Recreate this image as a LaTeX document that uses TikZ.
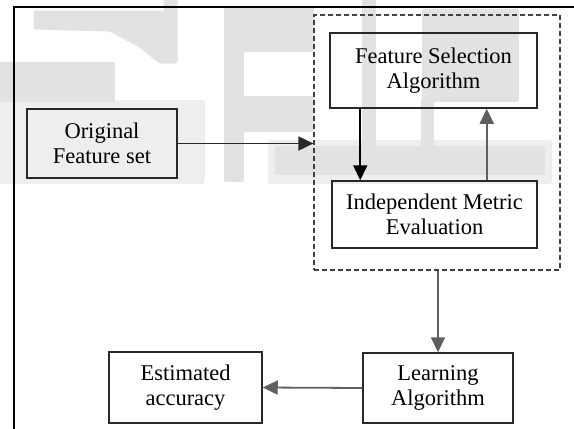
\documentclass[tikz,border=0pt]{standalone}
\usepackage{fontspec}
\setmainfont{Liberation Serif}
\usetikzlibrary{arrows.meta}

\definecolor{markgray}{RGB}{226,226,226}
\definecolor{hazegray}{RGB}{238,238,238}
\definecolor{inkgray}{RGB}{40,40,40}
\definecolor{linegray}{RGB}{95,95,95}

\tikzset{
  box/.style={draw=inkgray, line width=1.5pt, inner sep=0pt, align=center,
              text=black, font=\fontsize{22.5}{25.5}\selectfont},
  fence/.style={draw=black!75, line width=1.2pt, dash pattern=on 5pt off 3pt,
                inner sep=0pt},
  arr/.style={line width=1.8pt, -{Triangle[length=15pt,width=14pt]}},
  logopart/.style={fill=markgray, draw=markgray, line width=3pt, line join=round},
  logohaze/.style={fill=hazegray, draw=hazegray, line width=6pt, line join=round}
}

\begin{document}
\begin{tikzpicture}[x=1pt, y=-1pt]
  \useasboundingbox (0,0) rectangle (574,429);
  \fill[white] (0,0) rectangle (574,429);

  % faint background logo
  \path[logohaze] (0,103) rectangle (202,181);
  \path[logohaze] (271,143) rectangle (549,181);
  \path[logopart] (35,12) -- (165,12) -- (165,0) -- (176,0) -- (176,62) -- (160,62)
              -- (140,46) -- (110,30) -- (35,28) -- cycle;
  \path[logopart] (0,63) rectangle (113,100);
  \path[logopart] (225,8) rectangle (312,50);
  \path[logopart] (225,50) rectangle (242,180);
  \path[logopart] (242,97) rectangle (312,130);
  \path[logopart] (363,0) rectangle (374,145);
  \path[logopart] (423,10) rectangle (517,100);
  \path[logopart] (422,100) rectangle (432,145);
  \path[logopart] (276,147) rectangle (543,173);

  % outer frame
  \draw[line width=2pt, black] (14,440) -- (14,7) -- (590,7);

  % blocks
  \node[box, minimum width=150pt, minimum height=69pt] (orig) at (102,143.5)
       {Original\\Feature set};
  \node[fence, minimum width=246pt, minimum height=255pt] (wrap) at (437,142.5) {};
  \node[box, minimum width=207pt, minimum height=75pt] (fsa) at (433.5,70.5)
       {Feature Selection\\Algorithm};
  \node[box, minimum width=205pt, minimum height=67pt] (ime) at (434.5,214.5)
       {Independent Metric\\Evaluation};
  \node[box, minimum width=150pt, minimum height=70pt] (learn) at (438,388)
       {Learning\\Algorithm};
  \node[box, minimum width=153pt, minimum height=71pt] (est) at (185.5,387.5)
       {Estimated\\accuracy};

  % connectors
  \draw[arr, inkgray] (orig.east) -- (orig.east -| wrap.west);
  \draw[arr, black] ([xshift=31pt]fsa.south west)
       -- ([xshift=31pt]fsa.south west |- ime.north);
  \draw[arr, linegray] ([xshift=-51pt]fsa.south east |- ime.north)
       -- ([xshift=-51pt]fsa.south east);
  \draw[arr, linegray] (learn.north |- wrap.south) -- (learn.north);
  \draw[arr, linegray] (learn.west) -- (est.east);
\end{tikzpicture}
\end{document}
